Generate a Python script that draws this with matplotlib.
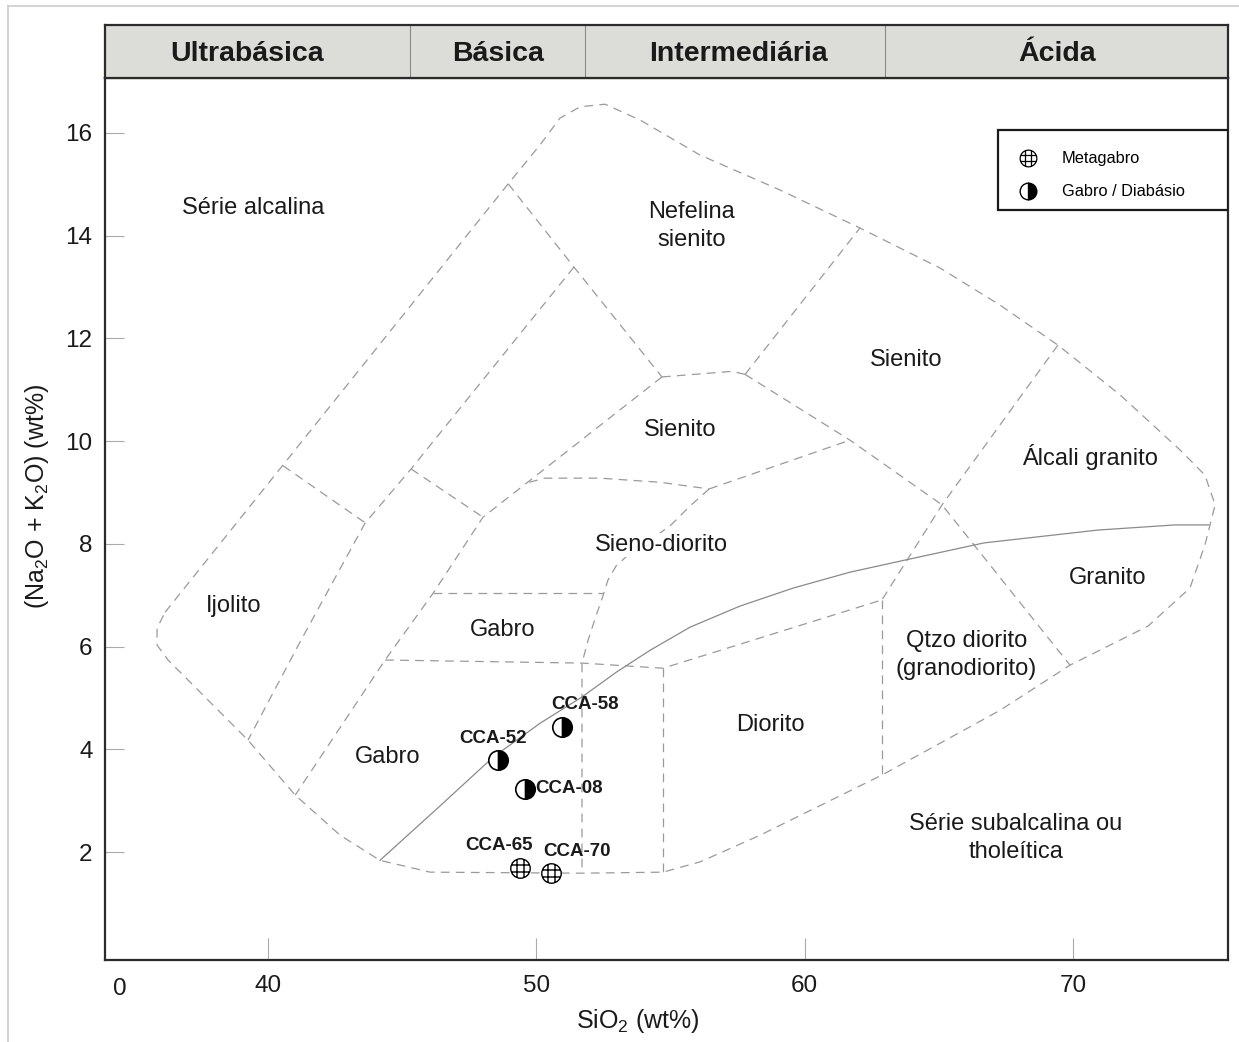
import numpy as np
import matplotlib
matplotlib.use("Agg")
import matplotlib.pyplot as plt
from matplotlib.path import Path
from matplotlib.lines import Line2D
from matplotlib.patches import Rectangle

plt.rcParams['font.family'] = ['Liberation Sans', 'DejaVu Sans']
plt.rcParams['mathtext.default'] = 'regular'

# ---- sample data -------------------------------------------------------
meta_names = ["CCA-65", "CCA-70"]
meta_sio2 = [49.39, 50.55]
meta_alk = [1.69, 1.59]

gab_names = ["CCA-58", "CCA-52", "CCA-08"]
gab_sio2 = [50.96, 48.57, 49.58]
gab_alk = [4.43, 3.79, 3.23]

# ---- classification field boundaries (SiO2, Na2O+K2O) -----------------
envelope_x = [36.16, 48.95, 50.14, 50.88, 51.63, 52.56, 53.87, 56.10, 59.08, 62.06,
              65.05, 67.28, 69.44, 71.76, 73.99, 74.92, 75.30, 74.92, 74.36, 72.80,
              69.89, 67.28, 62.88, 58.34, 56.10, 54.72, 51.70, 46.04, 44.17, 42.68,
              41.01, 39.25, 36.27, 35.86, 35.86, 36.16]
envelope_y = [6.67, 15.01, 15.77, 16.29, 16.51, 16.56, 16.25, 15.57, 14.89, 14.15,
              13.37, 12.65, 11.87, 10.90, 9.83, 9.34, 8.76, 7.98, 7.14, 6.40,
              5.64, 4.76, 3.50, 2.33, 1.81, 1.61, 1.59, 1.61, 1.84, 2.33,
              3.11, 4.18, 5.74, 6.03, 6.36, 6.67]

field_lines = [
    ([48.95, 51.40, 54.68], [15.01, 13.39, 11.25]),
    ([54.68, 57.30, 57.78], [11.25, 11.36, 11.30]),
    ([57.78, 62.06], [11.30, 14.15]),
    ([57.78, 61.69, 65.12, 69.89], [11.30, 10.02, 8.76, 5.64]),
    ([69.44, 65.12, 62.88], [11.87, 8.76, 6.91]),
    ([62.88, 62.88], [6.91, 3.50]),
    ([44.36, 51.70, 54.72, 62.88], [5.74, 5.68, 5.58, 6.91]),
    ([54.72, 54.72], [5.58, 1.61]),
    ([56.44, 55.73, 55.02, 54.24, 53.49, 52.97, 52.67, 52.49, 52.23, 51.93, 51.70, 51.70],
     [9.07, 8.74, 8.37, 8.07, 7.82, 7.57, 7.30, 7.00, 6.61, 6.13, 5.68, 1.59]),
    ([46.15, 52.49], [7.04, 7.04]),
    ([56.44, 61.69], [9.07, 10.02]),
    ([49.73, 50.32, 52.37, 54.61, 56.44], [9.20, 9.28, 9.28, 9.20, 9.07]),
    ([54.68, 48.01, 46.15, 44.36, 41.01], [11.25, 8.52, 7.04, 5.74, 3.11]),
    ([45.33, 48.01], [9.46, 8.52]),
    ([51.40, 45.33, 43.62, 41.23, 39.25], [13.39, 9.46, 8.41, 6.13, 4.18]),
    ([40.56, 43.62], [9.52, 8.41]),
]

# alkaline / subalkaline divide
divide_x = [44.17, 46.41, 48.39, 50.14, 51.70, 52.97, 54.24, 55.73, 57.59, 59.57,
            61.69, 63.78, 66.69, 70.94, 73.81, 75.07]
divide_y = [1.84, 2.90, 3.85, 4.51, 5.02, 5.50, 5.93, 6.38, 6.79, 7.14,
            7.45, 7.69, 8.02, 8.27, 8.37, 8.37]

field_names = ["Série alcalina", "Nefelina\nsienito", "Sienito", "Sienito",
               "Álcali granito", "Sieno-diorito", "Ijolito", "Gabro", "Granito",
               "Qtzo diorito\n(granodiorito)", "Diorito", "Gabro",
               "Série subalcalina ou\ntholeítica"]
field_x = [39.44, 55.77, 63.78, 55.36, 70.64, 54.65, 38.73, 48.76, 71.31, 66.02,
           58.71, 44.47, 67.88]
field_y = [14.54, 14.19, 11.58, 10.22, 9.69, 7.98, 6.79, 6.32, 7.33, 5.84,
           4.47, 3.85, 2.27]

band_names = ["Ultrabásica", "Básica", "Intermediária", "Ácida"]
band_label_x = [39.22, 48.57, 57.55, 69.40]
band_edges = [45.3, 51.8, 63.0]

x_ticks = [40, 50, 60, 70]
y_ticks = [2, 4, 6, 8, 10, 12, 14, 16]

XLIM = (33.92, 75.78)
YLIM = (-0.10, 17.07)

# ---- markers -----------------------------------------------------------
def grid_circle():
    parts = [Path.unit_circle()]
    for c in (-0.36, 0.36):
        h = np.sqrt(1 - c * c)
        parts.append(Path([[c, -h], [c, h]], [Path.MOVETO, Path.LINETO]))
        parts.append(Path([[-h, c], [h, c]], [Path.MOVETO, Path.LINETO]))
    return Path.make_compound_path(*parts)

GRID = grid_circle()

# ---- figure ------------------------------------------------------------
W, H = 1239, 1042
fig = plt.figure(figsize=(W / 100, H / 100), dpi=100)

def fx(px):
    return px / W

def fy(py):
    return 1 - py / H

ax = fig.add_axes([fx(105), fy(960), fx(1228) - fx(105), fy(78) - fy(960)])
hax = fig.add_axes([fx(105), fy(78), fx(1228) - fx(105), fy(25) - fy(78)])

# faint page border
fig.add_artist(Line2D([fx(8), fx(8)], [0, fy(6)], color='#cccccc', lw=1.2))
fig.add_artist(Line2D([fx(8), 1], [fy(6), fy(6)], color='#cccccc', lw=1.2))

# header band
hax.set_xlim(*XLIM)
hax.set_ylim(0, 1)
hax.set_facecolor('#dcdcd9')
hax.set_xticks([])
hax.set_yticks([])
for s in hax.spines.values():
    s.set_color('#2b2b2b')
    s.set_linewidth(1.6)
for e in band_edges:
    hax.axvline(e, color='#8a8a8a', lw=0.8)
for name, x in zip(band_names, band_label_x):
    hax.text(x, 0.46, name, ha='center', va='center',
             fontsize=20.5, fontweight='bold', color='#1a1a1a')

# main diagram
ax.set_xlim(*XLIM)
ax.set_ylim(*YLIM)
for s in ax.spines.values():
    s.set_color('#2b2b2b')
    s.set_linewidth(1.6)

dash = dict(color='#9a9a9a', lw=0.9, dashes=(7, 5))
ax.plot(envelope_x, envelope_y, **dash)
for xs, ys in field_lines:
    ax.plot(xs, ys, **dash)
ax.plot(divide_x, divide_y, color='#8a8a8a', lw=0.9)

for name, x, y in zip(field_names, field_x, field_y):
    kw = dict(ha='center', va='center', fontsize=17, color='#1a1a1a',
              linespacing=1.35)
    if name == "Sieno-diorito":
        kw['bbox'] = dict(boxstyle='square,pad=0.05', fc='white', ec='none')
    ax.text(x, y, name, **kw)

# samples
ax.plot(meta_sio2, meta_alk, ls='none', marker=GRID, ms=14, mfc='white',
        mec='black', mew=1.0, zorder=5)
ax.plot(gab_sio2, gab_alk, ls='none', marker='o', ms=14, fillstyle='right',
        mfc='black', mfcalt='white', mec='black', mew=1.2, zorder=5)

lab_off = {"CCA-58": (0.85, 0.45), "CCA-52": (-0.2, 0.42),
           "CCA-08": (1.65, 0.0), "CCA-65": (-0.8, 0.44),
           "CCA-70": (0.95, 0.42)}
for name, x, y in zip(meta_names + gab_names, meta_sio2 + gab_sio2, meta_alk + gab_alk):
    dx, dy = lab_off[name]
    ax.text(x + dx, y + dy, name, ha='center', va='center', fontsize=13.5,
            fontweight='bold', color='#1a1a1a', zorder=6)

# legend box
lx0 = (998 - 105) / 1123
ly1 = (960 - 130) / 882
ly0 = (960 - 210) / 882
ax.add_patch(Rectangle((lx0, ly0), 1 - lx0, ly1 - ly0, transform=ax.transAxes,
                       fc='white', ec='#1a1a1a', lw=1.6, zorder=6))
mx = (1028 - 105) / 1123
tx = (1062 - 105) / 1123
r1 = (960 - 158) / 882
r2 = (960 - 191) / 882
ax.plot([mx], [r1], transform=ax.transAxes, marker=GRID, ms=12, mfc='white',
        mec='black', mew=0.9, zorder=7, clip_on=False)
ax.plot([mx], [r2], transform=ax.transAxes, marker='o', ms=12, fillstyle='right',
        mfc='black', mfcalt='white', mec='black', mew=1.0, zorder=7, clip_on=False)
ax.text(tx, r1, "Metagabro", transform=ax.transAxes, va='center', fontsize=11.8,
        zorder=7)
ax.text(tx, r2, "Gabro / Diabásio", transform=ax.transAxes, va='center', fontsize=11.8,
        zorder=7)

# axes ticks and labels
ax.set_xticks(x_ticks)
ax.set_yticks(y_ticks)
ax.tick_params(direction='in', color='#aaaaaa', width=0.8, labelcolor='#1a1a1a')
ax.tick_params(axis='x', length=16, pad=11, labelsize=17.5)
ax.tick_params(axis='y', length=14, pad=9, labelsize=17.5)
ax.text(34.48, -0.45, "0", ha='center', va='top', fontsize=17.5,
        color='#1a1a1a', clip_on=False)

ax.set_xlabel("SiO$_2$ (wt%)", fontsize=18, color='#1a1a1a')
ax.xaxis.set_label_coords((638 - 105) / 1123, -0.053)
ax.set_ylabel("(Na$_2$O + K$_2$O) (wt%)", fontsize=18, color='#1a1a1a')
ax.yaxis.set_label_coords(-0.048, (960 - 496) / 882)

fig.savefig("out.png", dpi=100)
